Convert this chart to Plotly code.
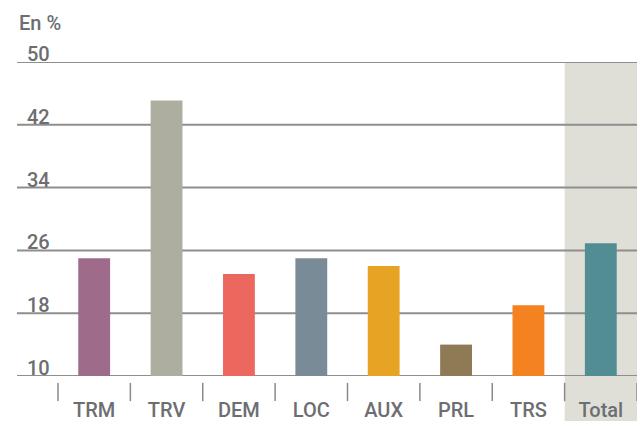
import plotly.graph_objects as go

categories = ["TRM", "TRV", "DEM", "LOC", "AUX", "PRL", "TRS", "Total"]
values = [25, 45.1, 23, 25, 24, 14, 19, 26.9]
colors = ["#9e6b8a", "#adada0", "#ec685e", "#798b97", "#e7a424", "#8e7a55", "#f48220", "#538d94"]
y_ticks = [10, 18, 26, 34, 42, 50]

txt = "#6d6e71"
grid = "#8e8e8e"
font = "Roboto"

x = list(range(len(categories)))

fig = go.Figure()
fig.add_trace(go.Bar(x=x, y=[v - 10 for v in values], base=10, width=0.44,
                     marker=dict(color=colors, line=dict(width=0)),
                     hoverinfo="skip"))

# highlighted background of the Total column
fig.add_shape(type="rect", xref="x", yref="paper", x0=len(x) - 1.5, x1=len(x) - 0.5,
              y0=-0.15, y1=1, fillcolor="#dfdfd8", line=dict(width=0), layer="below")

# gridlines + labels sitting on them
for t in y_ticks:
    fig.add_shape(type="line", xref="paper", yref="y", x0=0, x1=1, y0=t, y1=t,
                  line=dict(color=grid, width=2), layer="below")
    fig.add_annotation(text=str(t), xref="paper", yref="y", x=8 / 620, y=t,
                       xanchor="left", yanchor="bottom", yshift=-6, showarrow=False,
                       font=dict(family=font, size=20, color=txt, weight=500))

# category separators
for i in range(len(x) + 1):
    fig.add_shape(type="line", xref="x", yref="paper", x0=i - 0.5, x1=i - 0.5,
                  y0=-0.022, y1=-0.08, line=dict(color="#8a8a8a", width=1.5))

fig.add_annotation(text="En %", xref="paper", yref="paper", x=0, y=1, yshift=53,
                   xanchor="left", yanchor="top", showarrow=False,
                   font=dict(family=font, size=20, color=txt, weight=500))

fig.update_layout(
    width=639, height=421,
    margin=dict(l=17, r=2, t=62, b=45, autoexpand=False),
    paper_bgcolor="white", plot_bgcolor="rgba(0,0,0,0)",
    showlegend=False,
    font=dict(family=font, size=20, color=txt),
    xaxis=dict(range=[-0.5 - 41 / 72.4, len(x) - 0.5], tickvals=x, ticktext=categories,
               showgrid=False, zeroline=False, showline=False, ticks="", automargin=False,
               ticklabelstandoff=20, tickfont=dict(family=font, size=20, color=txt, weight=500)),
    yaxis=dict(range=[10, 50], showgrid=False, zeroline=False, showline=False,
               showticklabels=False, ticks="", automargin=False),
)

fig.write_html("out.html", config={"displayModeBar": False},
               post_script="document.body.style.margin='0';")
